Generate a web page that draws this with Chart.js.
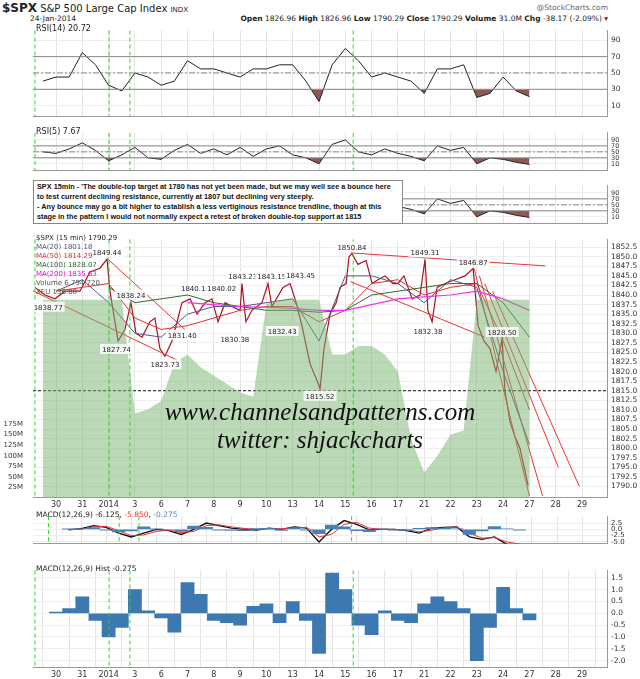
<!DOCTYPE html>
<html><head><meta charset="utf-8">
<script src="https://cdn.jsdelivr.net/npm/chart.js@4.4.1/dist/chart.umd.min.js"></script>
<style>
body{margin:0;background:#fff;width:640px;height:679px;position:relative;overflow:hidden;font-family:"DejaVu Sans",sans-serif;}
.p{position:absolute;left:0;width:640px;}
.t{position:absolute;font-size:8px;color:#222;white-space:nowrap;}
#note{position:absolute;left:33px;top:180px;width:362px;padding:1px 3px;background:#fff;border:1px solid #888;font:bold 7.3px "Liberation Sans",sans-serif;line-height:10px;color:#111;}
.wm{position:absolute;width:640px;left:0;text-align:center;font:italic 25px "Liberation Serif",serif;color:#111;}
</style></head><body>
<div class="t" style="left:2px;top:1px;font-size:10px"><b style="font-size:12px">$SPX</b> S&amp;P 500 Large Cap Index <span style="font-size:7px">INDX</span></div>
<div class="t" style="left:30px;top:14px;font-size:7.5px">24-Jan-2014</div>
<div class="t" style="right:32px;top:3px;font-size:7.5px;color:#666">@StockCharts.com</div>
<div class="t" style="right:32px;top:14px;font-size:7.5px"><b>Open</b> 1826.96 <b>High</b> 1826.96 <b>Low</b> 1790.29 <b>Close</b> 1790.29 <b>Volume</b> 31.0M <b>Chg</b> -38.17 (-2.09%) <span style="color:#a00">&#9662;</span></div>

<div class="p" style="top:22px;height:103px"><canvas id="rsi14"></canvas></div>
<div class="p" style="top:125px;height:53px"><canvas id="rsi5"></canvas></div>
<div class="p" style="top:178px;height:53px"><canvas id="rsi3"></canvas></div>
<div class="p" style="top:231px;height:280px"><canvas id="price"></canvas></div>
<div class="p" style="top:508px;height:44px"><canvas id="macd"></canvas></div>
<div class="p" style="top:562px;height:117px"><canvas id="hist"></canvas></div>

<div class="t" style="left:36px;top:24px">RSI(14) 20.72</div>
<div class="t" style="left:36px;top:127px">RSI(5) 7.67</div>
<div class="t" style="left:36px;top:234px;line-height:9px;font-size:7px">$SPX (15 min) 1790.29<br><span style="color:#557">MA(20) 1801.18</span><br><span style="color:#d33">MA(50) 1814.29</span><br><span style="color:#363">MA(100) 1828.07</span><br><span style="color:#e0e">MA(200) 1835.63</span><br><span style="color:#555">Volume 6,794,720</span><br><span style="color:#363">XEU 136.80</span></div>
<div class="t" style="left:36px;top:510px;font-size:7.5px">MACD(12,26,9) -6.125, <span style="color:#e33">-5.850</span>, <span style="color:#58b">-0.275</span></div>
<div class="t" style="left:36px;top:564px;font-size:7.5px">MACD(12,26,9) Hist -0.275</div>
<div id="note">SPX 15min - 'The double-top target at 1780 has not yet been made, but we may well see a bounce here to test current declining resistance, currently at 1807 but declining very steeply.<br>- Any bounce may go a bit higher to establish a less vertiginous resistance trendline, though at this stage in the pattern I would not normally expect a retest of broken double-top support at 1815</div>
<div class="wm" style="top:398px">www.channelsandpatterns.com</div>
<div class="wm" style="top:426px">twitter: shjackcharts</div>

<script>
// day labels on the time axis (index 0 = 30 Dec)
const dayLabels = ['30','31','2014','3','6','7','8','9','10','13','14','15','16','17','21','22','23','24','27','28','29'];
const markerDays = [-0.8, 2.02, 2.81, 11.3];

// half-day grid for the indicators
const grid = [-0.5,0,0.5,1,1.5,2,2.5,3,3.5,4,4.5,5,5.5,6,6.5,7,7.5,8,8.5,9,9.5,10,10.5,11,11.5,12,12.5,13,13.5,14,14.5,15,15.5,16,16.5,17,17.5,18];
const rsi14 = [40,45,45,75,60,35,28,50,45,35,40,65,55,55,50,45,55,55,60,60,40,15,60,80,65,45,50,45,40,25,55,55,60,20,25,45,28,21];
const rsi5 = [50,45,60,80,55,20,40,65,30,25,55,75,45,60,40,65,35,60,70,40,30,10,75,90,50,40,60,45,35,20,70,55,65,10,30,25,15,8];
const volume = [470,470,470,470,470,470,470,200,210,230,320,340,310,290,270,250,240,460,470,470,470,470,340,340,360,360,340,300,140,60,100,150,160,470,470,470,470,470];
const macdLine = [null,-0.2,0.3,1.5,0.8,-1.5,-3,-1.5,0,-0.5,-2,0,2.5,1.5,0.5,0,-0.3,0.5,0,1,0.5,-5,0,3.5,2,-0.2,0,0,-0.5,-1.5,0.5,0.8,1,-3,-4,-3,-6,-6.1];
const signalLine = [null,-0.1,0,1,1.2,-0.5,-2.5,-2.2,-0.8,-0.3,-1.3,-0.8,1.5,1.8,1,0.4,0,0.2,0.2,0.6,0.8,-3,-2,2,2.8,0.5,0,0,-0.2,-1,-0.3,0.6,0.9,-1.5,-3.5,-3.3,-5,-5.85];
const histVals = [null,0.05,0.2,0.7,-0.3,-1.0,-0.6,1.0,0.1,-0.2,-0.8,1.3,0.8,-0.3,-0.4,-0.5,0.3,0.4,-0.4,0.5,-0.3,-1.7,1.7,1.0,-0.5,-0.9,0.1,-0.3,-0.4,0.4,0.7,0.5,0.2,-2.0,-0.6,1.1,0.2,-0.275];

// price path (day index, price)
const priceT = [-0.8,-0.42,-0.04,0.34,0.91,1.29,1.67,1.94,2.05,2.17,2.36,2.62,2.85,3.04,3.27,3.57,3.76,3.95,4.14,4.41,4.64,4.79,5.1,5.36,5.67,5.93,6.16,6.43,6.69,7.0,7.07,7.22,7.45,7.83,8.06,8.21,8.63,8.9,9.13,9.35,9.66,9.96,10.04,10.19,10.42,10.65,10.8,11.03,11.14,11.25,11.48,11.79,12.02,12.24,12.51,12.81,13.0,13.23,13.54,13.84,14.03,14.14,14.3,14.49,14.79,15.17,15.55,15.86,16.05,16.27,16.5,16.73,16.96,17.07,17.26,17.45,17.64,17.8,17.95];
const priceV = [1842,1840,1839,1841,1841,1846,1847,1849.4,1841,1836,1828,1831,1838,1830,1829,1833,1834,1826,1824,1828,1834,1838,1839,1835,1838,1839,1833,1838,1837,1836,1843,1833,1836,1838,1843,1837,1842,1843,1838,1832,1822,1817,1815.5,1826,1835,1838,1842,1843,1850,1850.8,1848,1849,1843,1844,1845,1843,1843,1845,1839,1840,1849.3,1836,1833,1842,1843,1844,1845,1846.9,1832,1828,1826,1820,1828.5,1815,1807,1803,1800,1795,1790.3];

const maDays = [0,1,2,3,4,5,6,7,8,9,10,11,12,13,14,15,16,17,18];
const ma20 = [1841,1844,1838,1830,1829,1835,1837,1837,1838,1839,1828,1845,1845,1843,1838,1844,1842,1820,1801];
const ma50 = [1841,1842,1843,1834,1831,1832,1834,1836,1837,1837,1833,1836,1843,1844,1840,1842,1843,1828,1810];
const ma100 = [null,null,1842,1838,1839,1840,1838,1837,1836,1836,1835.5,1836,1840,1841,1842,1843,1843,1838,1829];
const ma200 = [null,null,null,null,null,1838,1837.5,1837,1836.8,1836.5,1836,1836,1837.5,1839,1839.5,1840,1841,1839,1836];

// trend lines drawn on the chart, [t1, p1, t2, p2]
const trendLines = [[-1,1841.5,4.6,1823],[1.95,1849.5,4.9,1831],[11.2,1851,18.6,1847.6],[11.2,1843.5,16.3,1829],[15.9,1846.9,18.0,1787.5],[16.1,1845,18.5,1787.5],[16.3,1843,19.1,1795],[16.6,1841,19.9,1790]];
const priceNotes = [[-0.3,1838.77,'1838.77',1],[1.94,1849.44,'1849.44',-1],[2.3,1827.74,'1827.74',1],[2.85,1838.24,'1838.24',-1],[4.14,1823.73,'1823.73',1],[4.8,1831.4,'1831.40',1],[5.3,1840.1,'1840.10',-1],[6.3,1840.02,'1840.02',-1],[6.8,1830.38,'1830.38',1],[7.1,1843.23,'1843.23',-1],[8.2,1843.15,'1843.15',-1],[8.6,1832.43,'1832.43',1],[9.3,1843.45,'1843.45',-1],[10.04,1815.52,'1815.52',1],[11.25,1850.84,'1850.84',-1],[14.03,1849.31,'1849.31',-1],[14.14,1832.38,'1832.38',1],[15.86,1846.87,'1846.87',-1],[16.96,1828.5,'1828.50',-1]];

const xMin = -0.875, xMax = 20.95;
const pts = (xs, ys) => xs.map((x, i) => ({x, y: ys[i]}));

const markers = {
  id: 'markers',
  afterDatasetsDraw(chart) {
    const {ctx, chartArea: a, scales: {x}} = chart;
    ctx.save();
    ctx.strokeStyle = '#22dd22'; ctx.lineWidth = 1; ctx.setLineDash([4, 3]);
    markerDays.forEach(d => {
      const px = x.getPixelForValue(d);
      ctx.beginPath(); ctx.moveTo(px, a.top); ctx.lineTo(px, a.bottom); ctx.stroke();
    });
    ctx.restore();
  }
};

function xScale(show) {
  return {
    type: 'linear', min: xMin, max: xMax,
    grid: {color: '#e4e4e4', drawTicks: false},
    border: {color: '#999'},
    ticks: {display: show, stepSize: 1, autoSkip: false, color: '#333', font: {size: 8, family: 'DejaVu Sans'}, padding: 3,
      callback: v => dayLabels[v] ?? ''},
    afterBuildTicks: s => { s.ticks = dayLabels.map((_, i) => ({value: i})); }
  };
}
function yScale(min, max, ticks, fmt, size) {
  return {
    position: 'right', min, max,
    grid: {color: '#eee', drawTicks: false}, border: {color: '#999'},
    ticks: {autoSkip: false, color: '#333', font: {size: size || 7.5, family: 'DejaVu Sans'}, padding: 4, callback: fmt || (v => v)},
    afterBuildTicks: s => { s.ticks = ticks.map(v => ({value: v})); },
    afterFit: s => { s.width = 33; }
  };
}
function baseOpts(scales, padLeft) {
  return {
    responsive: true, maintainAspectRatio: false, animation: false,
    layout: {padding: {left: padLeft, top: 0, bottom: 0, right: 0}},
    plugins: {legend: {display: false}, tooltip: {enabled: false}},
    scales
  };
}
const line = (data, color, w, extra) => Object.assign({type: 'line', data, borderColor: color, borderWidth: w || 1, pointRadius: 0, tension: 0, spanGaps: false}, extra || {});
const hline = (v, color, dash) => line([{x: xMin, y: v}, {x: xMax, y: v}], color, 1, {borderDash: dash || []});

function rsiChart(id, values, min, max, size) {
  new Chart(document.getElementById(id), {
    type: 'line',
    data: {datasets: [
      hline(70, '#888'), hline(50, '#888', [6, 2, 2, 2]), hline(30, '#888'),
      line(pts(grid, values), '#222', 1, {fill: {target: {value: 30}, above: 'rgba(0,0,0,0)', below: '#8a5a52'}})
    ]},
    options: baseOpts({x: xScale(false), y: yScale(min, max, [10, 30, 50, 70, 90], null, size)}, 33),
    plugins: [markers]
  });
}
rsiChart('rsi14', rsi14, -3.3, 102, 7.5);
rsiChart('rsi5', rsi5, -11, 113.5, 6.5);
rsiChart('rsi3', rsi5, -11, 113.5, 6.5);

const notesPlugin = {
  id: 'notes',
  afterDatasetsDraw(chart) {
    const {ctx, scales: {x, y}} = chart;
    ctx.save();
    ctx.font = '7px "DejaVu Sans"'; ctx.textAlign = 'center';
    priceNotes.forEach(([t, p, s, dir]) => {
      const px = x.getPixelForValue(t), py = y.getPixelForValue(p) + (dir > 0 ? 10 : -4);
      const w = ctx.measureText(s).width + 4;
      ctx.fillStyle = 'rgba(255,255,255,0.85)'; ctx.fillRect(px - w / 2, py - 8, w, 10);
      ctx.fillStyle = '#222'; ctx.fillText(s, px, py);
    });
    ctx.restore();
  }
};

new Chart(document.getElementById('price'), {
  type: 'line',
  data: {datasets: [
    line(pts(grid, volume), 'rgba(0,0,0,0)', 0, {yAxisID: 'vol', fill: 'origin', backgroundColor: 'rgba(120,180,110,0.5)'}),
    hline(1815, '#111', [3, 2]),
    line(pts(maDays, ma200), '#ee33ee', 1.2),
    line(pts(maDays, ma100), '#336633', 1),
    line(pts(maDays, ma50), '#dd3333', 1),
    line(pts(maDays, ma20), '#555588', 1),
    ...trendLines.map(l => line([{x: l[0], y: l[1]}, {x: l[2], y: l[3]}], '#ee3333', 1)),
    line(pts(priceT, priceV), '#aa1122', 1.2)
  ]},
  options: baseOpts({
    x: Object.assign(xScale(true), {afterFit: s => { s.height = 14; }}),
    y: yScale(1787.25, 1854.5, [1790,1792.5,1795,1797.5,1800,1802.5,1805,1807.5,1810,1812.5,1815,1817.5,1820,1822.5,1825,1827.5,1830,1832.5,1835,1837.5,1840,1842.5,1845,1847.5,1850,1852.5], v => v.toFixed(1)),
    vol: {position: 'left', min: 2, max: 613, grid: {display: false}, border: {display: false},
      ticks: {autoSkip: false, color: '#333', font: {size: 7, family: 'DejaVu Sans'}, padding: 2, callback: v => v + 'M'},
      afterBuildTicks: s => { s.ticks = [25, 50, 75, 100, 125, 150, 175].map(v => ({value: v})); },
      afterFit: s => { s.width = 33; }}
  }, 0),
  plugins: [markers, notesPlugin]
});

new Chart(document.getElementById('macd'), {
  type: 'line',
  data: {datasets: [
    {type: 'bar', data: pts(grid, histVals), backgroundColor: '#4a7fb5', barPercentage: 1, categoryPercentage: 1},
    line(pts(grid, signalLine), '#ee3333', 1),
    line(pts(grid, macdLine), '#111', 1.4)
  ]},
  options: baseOpts({x: xScale(false), y: yScale(-5.75, 5.25, [-5, -2.5, 0, 2.5], v => v.toFixed(1), 7)}, 33),
  plugins: [markers]
});

new Chart(document.getElementById('hist'), {
  type: 'bar',
  data: {datasets: [{data: pts(grid, histVals), backgroundColor: '#3d78b0', barPercentage: 1, categoryPercentage: 1}]},
  options: baseOpts({
    x: Object.assign(xScale(true), {offset: false, afterFit: s => { s.height = 12; }}),
    y: yScale(-2.27, 1.81, [-2, -1.5, -1, -0.5, 0, 0.5, 1, 1.5], v => v.toFixed(1))
  }, 33),
  plugins: [markers]
});
</script>
</body></html>
